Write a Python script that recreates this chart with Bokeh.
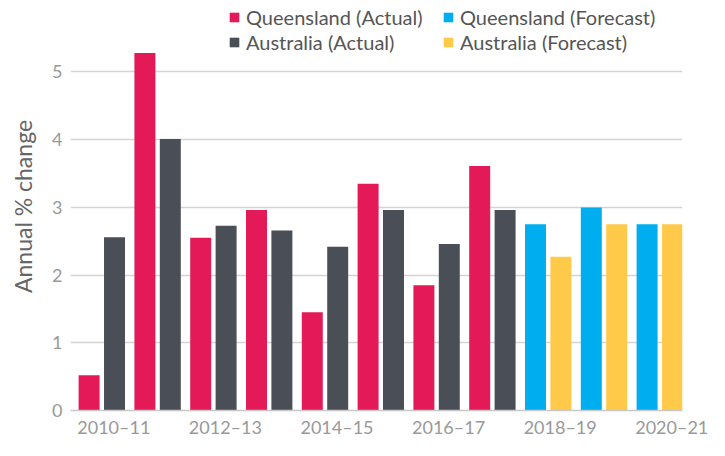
import numpy as np
from bokeh.plotting import figure
from bokeh.models import (Range1d, FixedTicker, CustomJSTickFormatter, Legend,
                          LegendItem)
from bokeh.embed import file_html
from bokeh.resources import INLINE

# ---- data ----
years = ["2010–11", "2011–12", "2012–13", "2013–14", "2014–15", "2015–16",
         "2016–17", "2017–18", "2018–19", "2019–20", "2020–21"]
qld_actual = [0.52, 5.28, 2.55, 2.96, 1.45, 3.35, 1.85, 3.61]
aus_actual = [2.56, 4.01, 2.73, 2.66, 2.42, 2.96, 2.46, 2.96]
qld_forecast = [2.75, 3.0, 2.75]
aus_forecast = [2.27, 2.75, 2.75]
y_ticks = [0, 1, 2, 3, 4, 5]

# ---- styles ----
RED = "#E31A57"
GREY = "#4A4E56"
BLUE = "#00AEEF"
YELLOW = "#FFC94A"
FONT = "Lato"

bw = 0.376       # bar width (units)
off = 0.2276     # dodge offset
lab_off = 0.215  # label centre offset from group centre

idx = np.arange(len(years))
n_act = len(qld_actual)
idx_act = idx[:n_act]
idx_fc = idx[n_act:]

p = figure(width=709, height=440, output_backend="svg", toolbar_location=None,
           x_range=Range1d(-0.561, 10.407), y_range=Range1d(0, 6.026),
           min_border_left=70, min_border_right=27, min_border_top=2,
           min_border_bottom=27)
p.outline_line_color = None
p.background_fill_color = "white"
p.border_fill_color = "white"

r_qa = p.vbar(x=idx_act - off, top=qld_actual, width=bw, fill_color=RED, line_color=None)
r_aa = p.vbar(x=idx_act + off, top=aus_actual, width=bw, fill_color=GREY, line_color=None)
r_qf = p.vbar(x=idx_fc - off, top=qld_forecast, width=bw, fill_color=BLUE, line_color=None)
r_af = p.vbar(x=idx_fc + off, top=aus_forecast, width=bw, fill_color=YELLOW, line_color=None)

# grid
p.xgrid.visible = False
p.ygrid.grid_line_color = "#d4d4d4"
p.ygrid.grid_line_width = 1.5

# y axis
p.yaxis.ticker = FixedTicker(ticks=y_ticks)
p.yaxis.axis_line_color = None
p.yaxis.major_tick_line_color = None
p.yaxis.major_tick_out = 0
p.yaxis.major_tick_in = 0
p.yaxis.minor_tick_line_color = None
p.yaxis.major_label_standoff = 8
p.yaxis.major_label_text_font = FONT
p.yaxis.major_label_text_font_size = "18px"
p.yaxis.major_label_text_color = "#999999"
p.yaxis.axis_label = "Annual % change"
p.yaxis.axis_label_text_font = FONT
p.yaxis.axis_label_text_font_size = "23px"
p.yaxis.axis_label_text_font_style = "normal"
p.yaxis.axis_label_text_color = "#666666"
p.yaxis.axis_label_standoff = 12

# x axis
p.xaxis.ticker = FixedTicker(ticks=[float(i + lab_off) for i in idx[::2]])
p.xaxis.formatter = CustomJSTickFormatter(
    args=dict(labels=years, h=lab_off),
    code="const i = Math.round(tick - h); return labels[i] ?? '';")
p.xaxis.axis_line_color = "#c8c8c8"
p.xaxis.axis_line_width = 1.5
p.xaxis.major_tick_line_color = None
p.xaxis.major_tick_out = 0
p.xaxis.major_tick_in = 0
p.xaxis.minor_tick_line_color = None
p.xaxis.major_label_standoff = 5
p.xaxis.major_label_text_font = FONT
p.xaxis.major_label_text_font_size = "18px"
p.xaxis.major_label_text_color = "#999999"

# legends (two columns)
common = dict(orientation="vertical", glyph_width=12, glyph_height=12,
              label_standoff=6, spacing=1, padding=0, margin=0, label_height=23,
              label_text_font=FONT, label_text_font_size="20px",
              label_text_color="#555555", border_line_color=None,
              background_fill_alpha=0)
leg1 = Legend(items=[LegendItem(label="Queensland (Actual)", renderers=[r_qa]),
                     LegendItem(label="Australia (Actual)", renderers=[r_aa])],
              location=(158, 356), **common)
leg2 = Legend(items=[LegendItem(label="Queensland (Forecast)", renderers=[r_qf]),
                     LegendItem(label="Australia (Forecast)", renderers=[r_af])],
              location=(372, 356), **common)
p.add_layout(leg1, "center")
p.add_layout(leg2, "center")

open("out.html", "w").write(file_html(p, INLINE))
